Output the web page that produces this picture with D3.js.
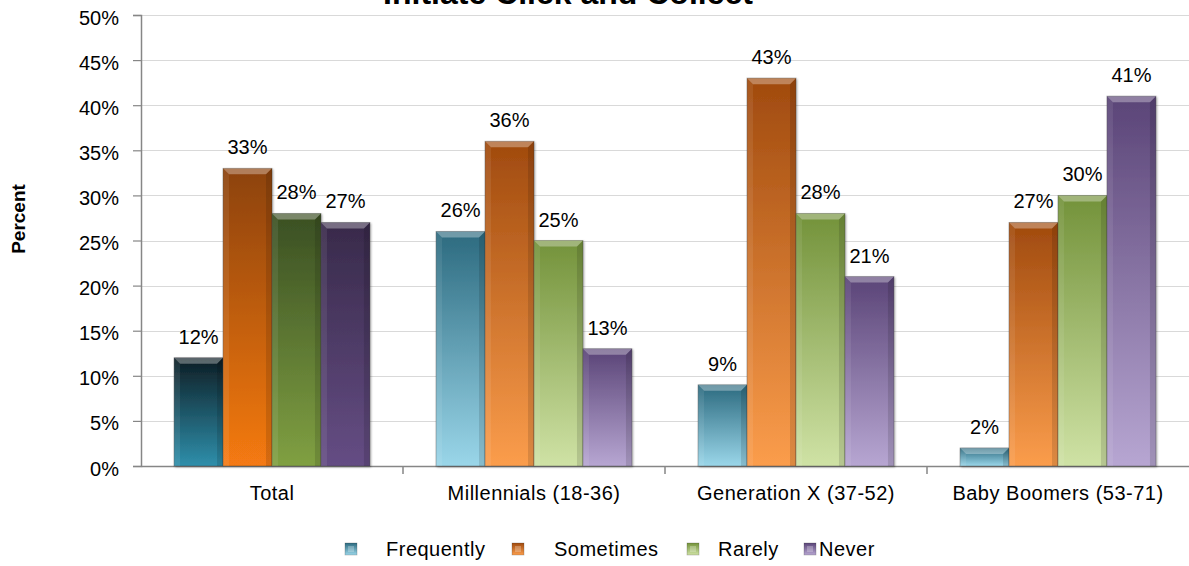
<!DOCTYPE html>
<html>
<head>
<meta charset="utf-8">
<script src="https://cdn.jsdelivr.net/npm/d3@7"></script>
<style>
  html, body { margin: 0; padding: 0; background: #fff; }
  svg { display: block; font-family: "Liberation Sans", Arial, Helvetica, sans-serif; }
</style>
</head>
<body>
<svg id="chart" width="1189" height="566"></svg>
<script>
// Survey results: how often respondents initiate click and collect
const title = "Initiate Click and Collect";
const yTitle = "Percent";
const categories = ["Total", "Millennials (18-36)", "Generation X (37-52)", "Baby Boomers (53-71)"];
const series = ["Frequently", "Sometimes", "Rarely", "Never"];
const frequently = [12, 26, 9, 2];
const sometimes  = [33, 36, 43, 27];
const rarely     = [28, 25, 28, 30];
const never      = [27, 13, 21, 41];
const yTicks = [0, 5, 10, 15, 20, 25, 30, 35, 40, 45, 50];

// gradient stops (top, bottom) for each series; the Total group uses a deeper shade
const shadeTop      = ["#2c6a7f", "#a04a0e", "#73923a", "#5a4477"];
const shadeBottom   = ["#9ad6e9", "#fb9d4c", "#cfe2a5", "#b7a6d2"];
const totalTop      = ["#0d1d24", "#8c4208", "#3a4f23", "#382a4a"];
const totalBottom   = ["#2f8fab", "#f57a12", "#80a042", "#654d84"];

const values = [frequently, sometimes, rarely, never];
const rows = [];
categories.forEach((c, ci) => series.forEach((s, si) => rows.push({ cat: c, ci, s, si, v: values[si][ci] })));

const svg = d3.select("#chart");
const plot = { left: 141, right: 1189, top: 15, bottom: 466 };

const x0 = d3.scaleBand().domain(categories).range([plot.left, plot.right]).paddingInner(0).paddingOuter(0);
const x1 = d3.scaleBand().domain(series).range([0, x0.bandwidth()]).paddingInner(0).paddingOuter(0.675);
const y = d3.scaleLinear().domain([0, 50]).range([plot.bottom, plot.top]);

// gradients
const defs = svg.append("defs");
rows.forEach(d => {
  const g = defs.append("linearGradient")
    .attr("id", `grad-${d.ci}-${d.si}`)
    .attr("x1", 0).attr("y1", 0).attr("x2", 0).attr("y2", 1);
  const top = d.ci === 0 ? totalTop[d.si] : shadeTop[d.si];
  const bot = d.ci === 0 ? totalBottom[d.si] : shadeBottom[d.si];
  g.append("stop").attr("offset", "0%").attr("stop-color", top);
  g.append("stop").attr("offset", "100%").attr("stop-color", bot);
});
const shadow = defs.append("filter").attr("id", "barShadow").attr("x", "-10%").attr("y", "-10%").attr("width", "130%").attr("height", "130%");
shadow.append("feGaussianBlur").attr("in", "SourceAlpha").attr("stdDeviation", 1.2).attr("result", "b");
shadow.append("feOffset").attr("in", "b").attr("dx", 1).attr("dy", 1).attr("result", "o");
shadow.append("feComponentTransfer").attr("in", "o").attr("result", "s")
  .append("feFuncA").attr("type", "linear").attr("slope", 0.35);
const merge = shadow.append("feMerge");
merge.append("feMergeNode").attr("in", "s");
merge.append("feMergeNode").attr("in", "SourceGraphic");

// title (partly above the top edge)
svg.append("text")
  .attr("x", 568).attr("y", 4)
  .attr("text-anchor", "middle")
  .attr("font-size", 32).attr("font-weight", "bold")
  .text(title);

// gridlines
svg.append("g")
  .selectAll("line").data(yTicks).join("line")
  .attr("x1", plot.left).attr("x2", plot.right)
  .attr("y1", d => Math.round(y(d)) + 0.5).attr("y2", d => Math.round(y(d)) + 0.5)
  .attr("stroke", "#d9d9d9").attr("stroke-width", 1.2);

// y axis
const yAxis = svg.append("g")
  .attr("transform", `translate(${plot.left},0)`)
  .call(d3.axisLeft(y).tickValues(yTicks).tickFormat(d => d + "%").tickSize(8).tickPadding(14));
yAxis.select(".domain").attr("stroke", "#868686").attr("stroke-width", 1.5);
yAxis.selectAll(".tick line").attr("stroke", "#868686").attr("stroke-width", 1.2);
yAxis.selectAll(".tick text").attr("font-size", 20).attr("fill", "#000").attr("dy", "0.45em")
  .attr("font-family", "'Liberation Sans', Arial, sans-serif");

// x axis
const xAxis = svg.append("g")
  .attr("transform", `translate(0,${plot.bottom})`)
  .call(d3.axisBottom(x0).tickSize(0).tickPadding(20).tickSizeOuter(0));
xAxis.select(".domain").attr("stroke", "#868686").attr("stroke-width", 1.5);
xAxis.selectAll(".tick text").attr("font-size", 20).attr("fill", "#000")
  .attr("letter-spacing", "0.5px")
  .attr("font-family", "'Liberation Sans', Arial, sans-serif");
// category separators
xAxis.selectAll(".sep").data(categories.slice(1)).join("line")
  .attr("class", "sep")
  .attr("x1", d => x0(d)).attr("x2", d => x0(d))
  .attr("y1", 0).attr("y2", 8)
  .attr("stroke", "#868686").attr("stroke-width", 1.5);

// bars
const bevel = 6;
const bars = svg.append("g").selectAll("g").data(rows).join("g")
  .attr("transform", d => `translate(${x0(d.cat) + x1(d.s)},${y(d.v)})`);
bars.each(function (d) {
  const g = d3.select(this);
  const w = x1.bandwidth();
  const h = y(0) - y(d.v);
  const b = Math.min(bevel, h / 2, w / 2);
  g.append("rect").attr("width", w).attr("height", h)
    .attr("fill", `url(#grad-${d.ci}-${d.si})`)
    .attr("stroke", "rgba(60,60,60,0.45)").attr("stroke-width", 0.8)
    .attr("filter", "url(#barShadow)");
  // top bevel facet
  g.append("polygon")
    .attr("points", [[0, 0], [w, 0], [w - b, b], [b, b]].join(" "))
    .attr("fill", "#fff").attr("fill-opacity", 0.32);
  // left facet
  g.append("polygon")
    .attr("points", [[0, 0], [b, b], [b, h], [0, h]].join(" "))
    .attr("fill", "#fff").attr("fill-opacity", 0.08);
  // right facet
  g.append("polygon")
    .attr("points", [[w, 0], [w - b, b], [w - b, h], [w, h]].join(" "))
    .attr("fill", "#000").attr("fill-opacity", 0.12);
});

// value labels
svg.append("g").selectAll("text").data(rows).join("text")
  .attr("x", d => x0(d.cat) + x1(d.s) + x1.bandwidth() / 2)
  .attr("y", d => y(d.v) - 14)
  .attr("text-anchor", "middle")
  .attr("font-size", 20).attr("fill", "#000")
  .text(d => d.v + "%");

// y axis title
svg.append("text")
  .attr("transform", `translate(25,219) rotate(-90)`)
  .attr("text-anchor", "middle")
  .attr("font-size", 19).attr("font-weight", "bold")
  .text(yTitle);

// legend
const legendGap = [29, 30, 19, 3];
const legendX = [345, 512, 687, 804];
const lg = svg.append("g").selectAll("g").data(series).join("g")
  .attr("transform", (d, i) => `translate(${legendX[i]},549)`);
lg.append("rect")
  .attr("x", 0).attr("y", -6).attr("width", 12).attr("height", 12)
  .attr("fill", (d, i) => `url(#grad-1-${i})`)
  .attr("stroke", "rgba(60,60,60,0.4)").attr("stroke-width", 0.6);
lg.append("rect")
  .attr("x", 3).attr("y", -3).attr("width", 6).attr("height", 6)
  .attr("fill", "#fff").attr("fill-opacity", 0.25);
lg.append("text")
  .attr("x", (d, i) => 12 + legendGap[i]).attr("y", 7)
  .attr("font-size", 20).attr("fill", "#000")
  .attr("letter-spacing", "0.5px")
  .text(d => d);
</script>
</body>
</html>
